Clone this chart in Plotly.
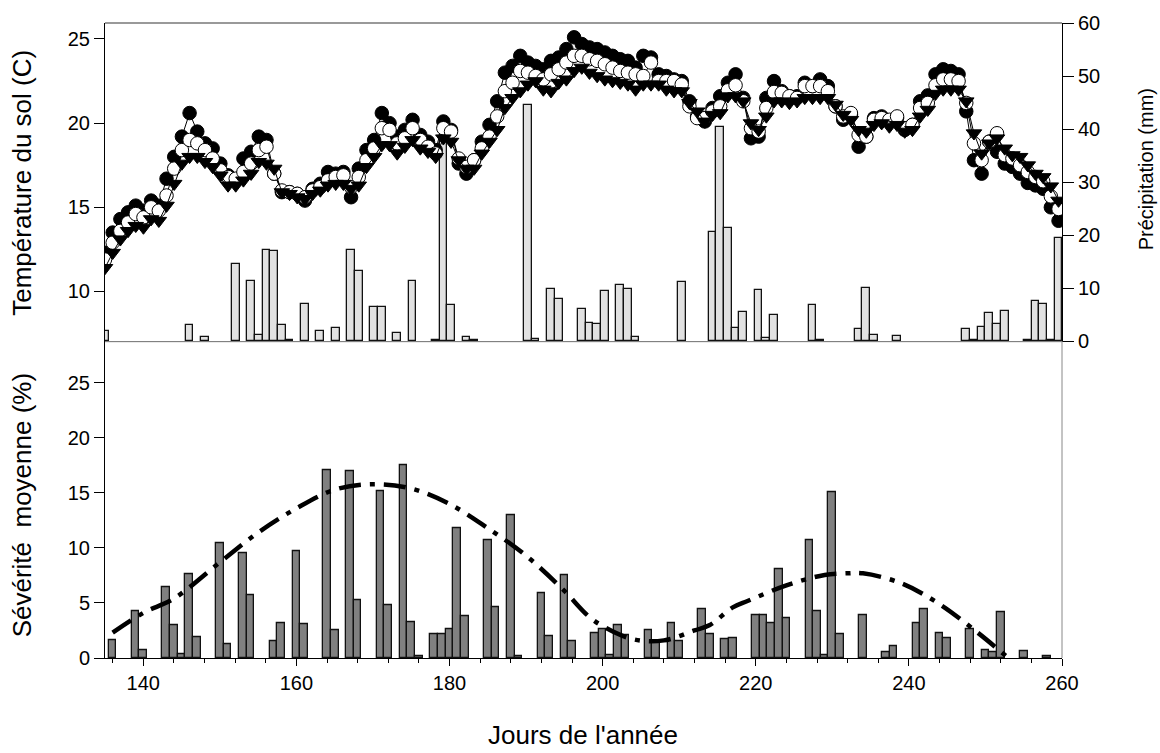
import plotly.graph_objects as go

# ---------------- data ----------------
temp_days = list(range(135, 260))
temp_black = [12.3, 13.5, 14.3, 14.7, 15.1, 14.8, 15.4, 15.1, 16.7, 18.0,
              19.2, 20.6, 19.5, 18.8, 18.5, 17.6, 16.9, 16.6, 17.9, 18.3,
              19.2, 19.0, 17.0, 15.9, 15.9, 15.8, 15.4, 16.1, 16.4, 17.1,
              17.0, 17.1, 15.6, 17.3, 18.4, 19.0, 20.6, 20.0, 19.2, 19.6,
              20.2, 19.3, 18.9, 18.4, 20.1, 19.6, 17.6, 17.0, 17.8, 18.9,
              19.9, 21.3, 23.0, 23.4, 24.0, 23.6, 23.4, 23.2, 23.7, 23.9,
              24.4, 25.1, 24.7, 24.5, 24.4, 24.2, 24.0, 23.8, 23.7, 23.3,
              24.0, 23.9, 22.9, 22.8, 22.6, 22.5, 21.3, 20.4, 20.1, 20.9,
              21.6, 22.4, 22.9, 21.5, 19.1, 19.2, 21.5, 22.5, 21.9, 21.6,
              21.6, 22.4, 22.2, 22.6, 22.2, 21.0, 20.2, 20.5, 18.6, 19.2,
              20.3, 20.4, 20.1, 20.3, 19.6, 19.9, 21.3, 21.65, 22.9, 23.2,
              23.1, 22.9, 20.7, 17.8, 17.0, 18.9, 18.3, 17.6, 17.4, 17.0,
              16.45, 16.3, 16.1, 15.0, 14.2]
temp_open = [11.9, 12.9, 13.6, 14.1, 14.6, 14.4, 15.0, 14.8, 15.7, 17.3,
             18.4, 19.0, 18.8, 18.4, 17.9, 17.2, 16.8, 16.7, 17.1, 17.6,
             18.4, 18.6, 17.0, 16.0, 15.9, 15.8, 15.6, 16.0, 16.2, 16.6,
             16.8, 16.9, 16.2, 16.8, 17.8, 18.5, 19.7, 19.6, 18.8, 19.1,
             19.7, 19.0, 18.6, 18.2, 19.7, 19.5, 17.9, 17.4, 17.8, 18.5,
             19.2, 20.4, 21.9, 22.4, 23.1, 23.0, 22.8, 22.6, 22.9, 23.2,
             23.6, 24.0, 24.0, 23.8, 23.7, 23.5, 23.3, 23.1, 23.0, 22.9,
             22.8, 23.6, 22.5, 22.5, 22.5, 22.3, 21.0, 20.3, 20.3, 20.7,
             21.0, 21.95, 22.25, 21.3, 19.7, 19.5, 20.9, 21.85, 21.8, 21.6,
             21.5, 22.2, 22.2, 22.2, 21.9, 21.0, 20.4, 20.6, 19.3, 19.2,
             20.2, 20.3, 20.2, 20.4, 19.7, 19.9, 20.9, 21.2, 22.25, 22.6,
             22.6, 22.5, 21.2, 18.8, 17.8, 18.9, 19.4, 18.1, 17.9, 17.5,
             17.1, 16.8, 16.55, 15.65, 14.9]
temp_tri = [11.4, 12.3, 13.1, 13.6, 13.9, 13.8, 14.3, 14.2, 15.1, 16.4,
            17.6, 18.0, 18.0, 17.7, 17.4, 16.9, 16.3, 16.3, 16.6, 17.0,
            17.7, 17.6, 17.3, 15.9, 15.8, 15.6, 15.5, 15.8, 16.0, 16.3,
            16.4, 16.4, 16.1, 16.3, 17.4, 18.0, 18.7, 18.7, 18.2, 18.6,
            19.0, 18.5, 18.3, 18.0, 19.1, 18.9, 17.8, 17.3, 17.3, 18.2,
            18.9, 19.6, 20.9, 21.5, 21.9, 22.3, 22.5, 22.0, 21.9, 22.4,
            22.6, 23.1, 23.3, 23.0, 22.8, 22.6, 22.5, 22.4, 22.3, 22.0,
            22.3, 22.3, 22.3, 22.0, 21.9, 21.9, 21.2, 20.7, 20.1, 20.5,
            20.6, 21.6, 21.6, 21.3, 20.0, 19.6, 20.4, 21.3, 21.3, 21.2,
            21.3, 21.5, 21.5, 21.5, 21.5, 21.1, 20.5, 20.2, 19.6, 19.5,
            19.9, 20.0, 19.8, 19.9, 19.5, 19.6, 20.4, 20.8, 21.75, 22.0,
            22.0, 22.0, 21.3, 19.4, 18.2, 18.8, 19.1, 18.5, 18.1, 18.0,
            17.5, 17.0, 16.8, 16.25, 15.4]

precip_days = [135, 146, 148, 152, 154, 155, 156, 157, 158, 159, 161, 163, 165,
               167, 168, 170, 171, 173, 175, 178, 179, 180, 182, 183, 190, 191,
               193, 194, 197, 198, 199, 200, 202, 203, 204, 210, 214, 215, 216,
               217, 218, 220, 221, 222, 227, 228, 233, 234, 235, 238, 247, 248,
               249, 250, 251, 252, 255, 256, 257, 258, 259]
precip_mm = [1.9, 3.0, 0.8, 14.5, 11.4, 1.1, 17.2, 17.0, 3.0, 0.2, 7.0, 1.9, 2.4,
             17.2, 13.3, 6.4, 6.5, 1.6, 11.4, 0.2, 38.9, 6.9, 0.7, 0.2, 44.5, 0.4,
             9.9, 7.9, 6.1, 3.5, 3.2, 9.5, 10.6, 9.9, 0.7, 11.2, 20.6, 40.3, 21.4,
             2.4, 5.5, 9.7, 0.5, 5.0, 6.8, 0.3, 2.2, 10.0, 1.2, 1.0, 2.2, 0.2,
             2.6, 5.4, 3.3, 5.7, 0.3, 7.6, 7.0, 0.3, 19.5]

sev_days = [136, 139, 140, 143, 144, 145, 146, 147, 150, 151, 153, 154, 157, 158,
            160, 161, 164, 165, 167, 168, 171, 172, 174, 175, 176, 178, 179, 180,
            181, 182, 185, 186, 188, 189, 192, 193, 195, 196, 199, 200, 201, 202,
            203, 206, 207, 209, 210, 213, 214, 216, 217, 220, 221, 222, 223, 224,
            227, 228, 229, 230, 231, 234, 237, 238, 241, 242, 244, 245, 248, 250,
            251, 252, 255, 258]
sev_pct = [1.6, 4.3, 0.7, 6.4, 3.0, 0.35, 7.6, 1.9, 10.4, 1.3, 9.5, 5.7, 1.5, 3.2,
           9.7, 3.1, 17.1, 2.5, 17.0, 5.3, 15.2, 4.8, 17.5, 3.3, 0.2, 2.2, 2.2, 2.6,
           11.8, 3.8, 10.7, 4.6, 13.0, 0.2, 5.9, 2.0, 7.5, 1.5, 2.3, 2.65, 0.3, 2.95,
           2.1, 2.55, 1.5, 3.2, 1.5, 4.4, 2.2, 1.7, 1.8, 3.9, 3.9, 3.2, 8.1, 3.6,
           10.7, 4.25, 0.3, 15.1, 2.2, 3.9, 0.5, 1.1, 3.2, 4.45, 2.3, 1.8, 2.65, 0.7,
           0.55, 4.2, 0.6, 0.2]

trend_days = [136, 140, 144, 150, 155, 160, 165, 170, 175, 180, 185, 190, 195,
              198, 200, 204, 208, 212, 214, 217, 219, 224, 229, 232, 234, 239,
              244, 249, 253]
trend_pct = [2.3, 4.1, 5.4, 8.7, 11.4, 13.6, 15.3, 15.8, 15.4, 14.0, 11.8, 9.3,
             6.1, 3.9, 2.9, 1.7, 1.6, 2.5, 3.0, 4.6, 5.2, 6.6, 7.55, 7.7, 7.7,
             6.8, 4.9, 2.3, 0.0]

x_ticks = [140, 160, 180, 200, 220, 240, 260]
temp_ticks = [10, 15, 20, 25]
precip_ticks = [0, 10, 20, 30, 40, 50, 60]
sev_ticks = [0, 5, 10, 15, 20, 25]

FONT = "Arial, Liberation Sans, sans-serif"

fig = go.Figure()

# precipitation bars (base y axis, right side)
fig.add_trace(go.Bar(x=precip_days, y=precip_mm, width=1.0, xaxis="x", yaxis="y",
                     marker=dict(color="#e1e1e1", line=dict(color="#111111", width=1.3)),
                     showlegend=False))

# temperature series (overlay axis y2, left side)
fig.add_trace(go.Scatter(x=temp_days, y=temp_black, xaxis="x", yaxis="y2", mode="lines+markers",
                         line=dict(color="black", width=1),
                         marker=dict(symbol="circle", size=13.5, color="black",
                                     line=dict(color="black", width=1)),
                         showlegend=False))
fig.add_trace(go.Scatter(x=temp_days, y=temp_open, xaxis="x", yaxis="y2", mode="lines+markers",
                         line=dict(color="black", width=1),
                         marker=dict(symbol="circle", size=13.5, color="white",
                                     line=dict(color="black", width=1)),
                         showlegend=False))
fig.add_trace(go.Scatter(x=temp_days, y=temp_tri, xaxis="x", yaxis="y2", mode="lines+markers",
                         line=dict(color="black", width=1),
                         marker=dict(symbol="triangle-down", size=13.5, color="black",
                                     line=dict(color="black", width=1)),
                         showlegend=False))

# severity bars + trend
fig.add_trace(go.Bar(x=sev_days, y=sev_pct, width=1.0, xaxis="x2", yaxis="y3",
                     marker=dict(color="#808080", line=dict(color="#111111", width=1.3)),
                     showlegend=False))
fig.add_trace(go.Scatter(x=trend_days, y=trend_pct, xaxis="x2", yaxis="y3", mode="lines",
                         line=dict(color="black", width=4.5, shape="spline",
                                   dash="22px,9px,5px,9px"),
                         showlegend=False))

split = 0.499
axis_common = dict(showgrid=False, zeroline=False, showline=True, linecolor="black",
                   linewidth=1, tickfont=dict(family=FONT, size=20, color="black"),
                   tickcolor="black")

fig.update_layout(
    width=1160, height=753,
    margin=dict(l=105, r=98, t=19, b=95),
    paper_bgcolor="white", plot_bgcolor="white",
    bargap=0,
    xaxis=dict(domain=[0, 1], range=[135, 259.45], anchor="y", showticklabels=False,
               ticks="", showgrid=False, zeroline=False, showline=True,
               linecolor="black", linewidth=1),
    yaxis=dict(domain=[split, 1], range=[0, 60], anchor="x", side="right",
               tickmode="array", tickvals=precip_ticks, ticks="outside", ticklen=11,
               **axis_common),
    yaxis2=dict(overlaying="y", range=[7.05, 25.95], anchor="x", side="left",
                tickmode="array", tickvals=temp_ticks, ticks="outside", ticklen=10,
                **axis_common),
    xaxis2=dict(domain=[0, 1], range=[135, 260], anchor="y3",
                tickmode="array", tickvals=x_ticks, ticks="outside", ticklen=7,
                minor=dict(ticks="outside", ticklen=4, tickmode="linear", tick0=136, dtick=4,
                           tickcolor="black"),
                **axis_common),
    yaxis3=dict(domain=[0, split], range=[0, 28.8], anchor="x2",
                tickmode="array", tickvals=sev_ticks, ticks="outside", ticklen=10,
                **axis_common),
    shapes=[
        dict(type="line", xref="paper", yref="paper", x0=0, x1=1, y0=1, y1=1,
             line=dict(color="#777777", width=1.5)),
        dict(type="line", xref="paper", yref="paper", x0=0, x1=1, y0=split - 0.001,
             y1=split - 0.001, line=dict(color="#b0b0b0", width=1)),
        dict(type="line", xref="paper", yref="paper", x0=1, x1=1, y0=0, y1=split,
             line=dict(color="#888888", width=1)),
    ],
    annotations=[
        dict(text="Température du sol (C)", xref="paper", yref="paper",
             x=-0.087, y=0.748, textangle=-90, showarrow=False,
             xanchor="center", yanchor="middle",
             font=dict(family=FONT, size=26, color="black")),
        dict(text="Sévérité  moyenne (%)", xref="paper", yref="paper",
             x=-0.087, y=0.24, textangle=-90, showarrow=False,
             xanchor="center", yanchor="middle",
             font=dict(family=FONT, size=26, color="black")),
        dict(text="Précipitation (mm)", xref="paper", yref="paper",
             x=1.088, y=0.77, textangle=-90, showarrow=False,
             xanchor="center", yanchor="middle",
             font=dict(family=FONT, size=20, color="black")),
        dict(text="Jours de l'année", xref="paper", yref="paper",
             x=0.4995, y=-0.122, showarrow=False,
             xanchor="center", yanchor="middle",
             font=dict(family=FONT, size=26, color="black")),
    ],
)

fig.write_html("out.html")
